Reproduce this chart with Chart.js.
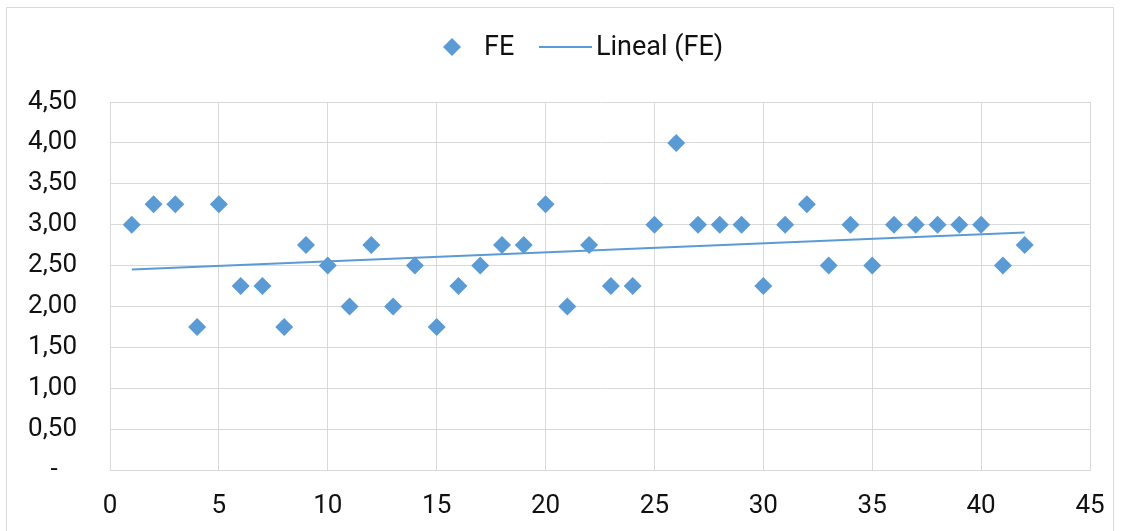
<!DOCTYPE html>
<html>
<head>
<meta charset="utf-8">
<title>FE</title>
<script src="https://cdn.jsdelivr.net/npm/chart.js@4/dist/chart.umd.min.js"></script>
<style>
    html, body { margin: 0; padding: 0; background: #fff; }
    #wrap { width: 1121px; height: 531px; }
</style>
</head>
<body>
<div id="wrap"><canvas id="fe-chart"></canvas></div>
<script>
// ===========================================
// DATA
// ===========================================
const xValues = [1, 2, 3, 4, 5, 6, 7, 8, 9, 10, 11, 12, 13, 14, 15, 16, 17, 18, 19, 20, 21,
                 22, 23, 24, 25, 26, 27, 28, 29, 30, 31, 32, 33, 34, 35, 36, 37, 38, 39, 40, 41, 42];
const feValues = [3.00, 3.25, 3.25, 1.75, 3.25, 2.25, 2.25, 1.75, 2.75, 2.50, 2.00, 2.75, 2.00, 2.50,
                  1.75, 2.25, 2.50, 2.75, 2.75, 3.25, 2.00, 2.75, 2.25, 2.25, 3.00, 4.00, 3.00, 3.00,
                  3.00, 2.25, 3.00, 3.25, 2.50, 3.00, 2.50, 3.00, 3.00, 3.00, 3.00, 3.00, 2.50, 2.75];
const seriesLabels = ['FE', 'Lineal (FE)'];

const BLUE = '#5b9bd5';
const GRID = '#d9d9d9';
const FONT = 'Roboto, "Liberation Sans", sans-serif';

// ===========================================
// HELPERS
// ===========================================
// least squares trend, like Excel's "Lineal" trendline
function linearTrend(xs, ys) {
    const n = xs.length;
    const mx = xs.reduce((a, b) => a + b, 0) / n;
    const my = ys.reduce((a, b) => a + b, 0) / n;
    let sxy = 0, sxx = 0;
    for (let i = 0; i < n; i++) {
        sxy += (xs[i] - mx) * (ys[i] - my);
        sxx += (xs[i] - mx) * (xs[i] - mx);
    }
    const slope = sxy / sxx;
    const x0 = xs[0], x1 = xs[n - 1];
    return [
        { x: x0, y: my + slope * (x0 - mx) },
        { x: x1, y: my + slope * (x1 - mx) }
    ];
}

function formatComma(value) {
    if (value === 0) return '-   ';
    return value.toFixed(2).replace('.', ',');
}

// frame around the whole chart + hand drawn legend
const framePlugin = {
    id: 'frame',
    beforeDraw(chart) {
        const ctx = chart.ctx;
        ctx.save();
        ctx.strokeStyle = GRID;
        ctx.lineWidth = 1;
        ctx.strokeRect(6.5, 7.5, 1107, 600);
        ctx.restore();
    },
    afterDraw(chart) {
        const ctx = chart.ctx;
        const y = 47;
        ctx.save();
        // diamond
        ctx.fillStyle = BLUE;
        ctx.beginPath();
        ctx.moveTo(443, y);
        ctx.lineTo(452, y - 9);
        ctx.lineTo(461, y);
        ctx.lineTo(452, y + 9);
        ctx.closePath();
        ctx.fill();
        // line
        ctx.strokeStyle = BLUE;
        ctx.lineWidth = 2;
        ctx.beginPath();
        ctx.moveTo(539, y);
        ctx.lineTo(592, y);
        ctx.stroke();
        // texts
        ctx.fillStyle = '#111';
        ctx.font = '27px ' + FONT;
        ctx.textBaseline = 'middle';
        ctx.textAlign = 'left';
        ctx.fillText(seriesLabels[0], 484, y + 1);
        ctx.fillText(seriesLabels[1], 596, y + 1);
        ctx.restore();
    }
};

// ===========================================
// CHART
// ===========================================
const scatterPoints = xValues.map((x, i) => ({ x: x, y: feValues[i] }));

new Chart(document.getElementById('fe-chart'), {
    type: 'scatter',
    data: {
        datasets: [
            {
                label: seriesLabels[0],
                data: scatterPoints,
                pointStyle: 'rectRot',
                pointRadius: 9,
                pointHoverRadius: 9,
                pointBorderWidth: 0,
                backgroundColor: BLUE,
                borderColor: BLUE,
                order: 1
            },
            {
                label: seriesLabels[1],
                type: 'line',
                data: linearTrend(xValues, feValues),
                borderColor: BLUE,
                borderWidth: 2,
                pointRadius: 0,
                fill: false,
                order: 2
            }
        ]
    },
    options: {
        responsive: true,
        maintainAspectRatio: false,
        animation: false,
        layout: {
            padding: { top: 102, right: 31, left: 0, bottom: 0 }
        },
        plugins: {
            legend: { display: false },
            tooltip: { enabled: false }
        },
        scales: {
            x: {
                type: 'linear',
                min: 0,
                max: 45,
                afterFit: scale => {
                    scale.height = 61;
                    scale.paddingLeft = 0;
                    scale.paddingRight = 0;
                },
                ticks: {
                    stepSize: 5,
                    padding: 21,
                    color: '#111',
                    font: { family: FONT, size: 26 }
                },
                grid: { color: GRID, drawTicks: false },
                border: { color: GRID }
            },
            y: {
                min: 0,
                max: 4.5,
                afterFit: scale => {
                    scale.width = 110;
                    scale.paddingTop = 0;
                    scale.paddingBottom = 0;
                },
                ticks: {
                    stepSize: 0.5,
                    padding: 33,
                    color: '#111',
                    font: { family: FONT, size: 26 },
                    callback: v => formatComma(v)
                },
                grid: { color: GRID, drawTicks: false },
                border: { color: GRID }
            }
        }
    },
    plugins: [framePlugin]
});
</script>
</body>
</html>
